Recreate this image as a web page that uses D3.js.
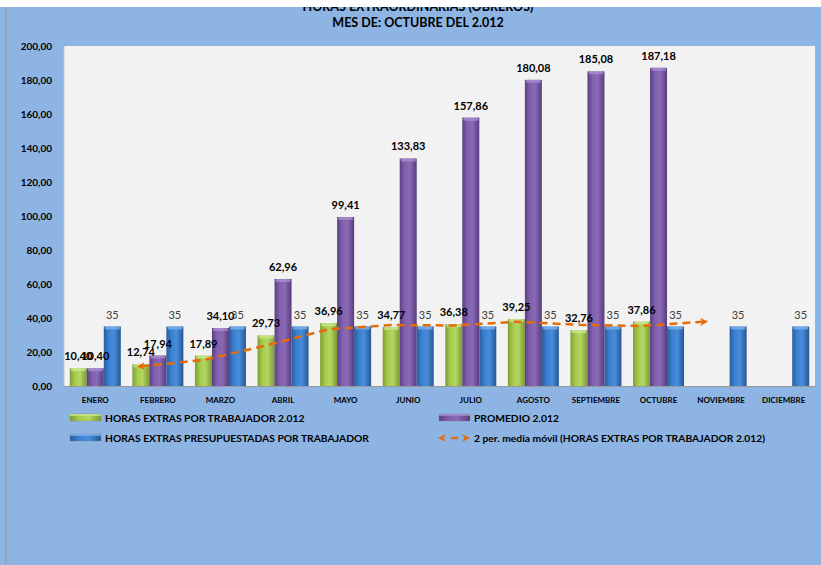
<!DOCTYPE html>
<html><head><meta charset="utf-8">
<script src="https://cdn.jsdelivr.net/npm/d3@7"></script>
<style>body{margin:0;background:#fff}svg{display:block}text{font-family:Lato,"Open Sans",sans-serif}</style>
</head><body><svg id="c" width="821" height="565"></svg>
<script>
const months = ["ENERO","FEBRERO","MARZO","ABRIL","MAYO","JUNIO","JULIO","AGOSTO","SEPTIEMBRE","OCTUBRE","NOVIEMBRE","DICIEMBRE"];
const horasExtras = [10.40,12.74,17.89,29.73,36.96,34.77,36.38,39.25,32.76,37.86,null,null];
const promedio = [10.40,17.94,34.10,62.96,99.41,133.83,157.86,180.08,185.08,187.18,null,null];
const presupuestadas = [35,35,35,35,35,35,35,35,35,35,35,35];
const mediaMovil = [null,11.57,15.32,23.81,33.35,35.87,35.58,37.82,36.01,35.31,37.86,null];
const yTicks = [0,20,40,60,80,100,120,140,160,180,200];
const titles = ["HORAS EXTRAORDINARIAS (OBREROS)","MES DE: OCTUBRE DEL 2.012"];
const legendLabels = ["HORAS EXTRAS POR TRABAJADOR 2.012","PROMEDIO 2.012","HORAS EXTRAS PRESUPUESTADAS POR TRABAJADOR","2 per. media móvil (HORAS EXTRAS POR TRABAJADOR 2.012)"];

const svg = d3.select("#c");
const fmt = v => d3.format(".2f")(v).replace(".", ",");

svg.append("rect").attr("x",0).attr("y",0).attr("width",821).attr("height",565).attr("fill","#8EB4E3");
svg.append("line").attr("x1",6).attr("x2",6).attr("y1",7).attr("y2",565).attr("stroke","#9a9a9a").attr("stroke-width",1);

const defs = svg.append("defs");
function grad(id, stops){
  const g = defs.append("linearGradient").attr("id",id).attr("x1","0").attr("x2","1").attr("y1","0").attr("y2","0");
  stops.forEach(s=>g.append("stop").attr("offset",s[0]).attr("stop-color",s[1]));
}
grad("gG",[[0,"#7C9E33"],[0.3,"#A6CC4C"],[0.6,"#B3D663"],[1,"#7A9A30"]]);
grad("gP",[[0,"#5B3F80"],[0.3,"#8160AF"],[0.6,"#8A69B7"],[1,"#573C7B"]]);
grad("gB",[[0,"#2A5B9D"],[0.3,"#3B81D3"],[0.6,"#478DDB"],[1,"#275693"]]);
const capCol = {gG:"#C8E68A", gP:"#A88ED0", gB:"#7DB2EA"};

const x0 = 64, x1 = 815, yTop = 46, yBot = 386;
svg.append("rect").attr("x",x0).attr("y",yTop).attr("width",x1-x0).attr("height",yBot-yTop).attr("fill","#F2F2F2");

const x = d3.scaleBand().domain(months).range([x0,x1]).paddingInner(0.185).paddingOuter(0.0925);
const sub = d3.scaleBand().domain(["g","p","b"]).range([0,x.bandwidth()]);
const y = d3.scaleLinear().domain([0,200]).range([yBot,yTop]);

// y axis
const ya = svg.append("g").attr("transform","translate(52,0)")
  .call(d3.axisLeft(y).tickValues(yTicks).tickSize(0).tickPadding(0).tickFormat(fmt));
ya.select(".domain").remove();
ya.selectAll("text").attr("font-size",10).attr("font-weight","bold").attr("fill","#000").attr("font-family","Lato");
svg.append("line").attr("x1",x0).attr("x2",x0).attr("y1",yTop).attr("y2",yBot).attr("stroke","#C8C8C8");

// x axis
const xa = svg.append("g").attr("transform",`translate(0,${yBot})`)
  .call(d3.axisBottom(x).tickSize(0).tickPadding(13));
xa.select(".domain").attr("stroke","#9a9a9a");
xa.selectAll("text").attr("font-size",8).attr("font-weight","bold").attr("fill","#000").attr("font-family","Lato").attr("dy","0.5em");

const series = [
  {key:"g", vals:horasExtras, fill:"gG", bold:true},
  {key:"p", vals:promedio, fill:"gP", bold:true},
  {key:"b", vals:presupuestadas, fill:"gB", bold:false}
];
series.forEach(s=>{
  const g = svg.append("g");
  months.forEach((m,i)=>{
    const v = s.vals[i];
    if(v==null) return;
    const bx = x(m)+sub(s.key), bw = sub.bandwidth();
    g.append("rect").attr("x",bx).attr("y",y(v)).attr("width",bw).attr("height",y(0)-y(v)).attr("fill",`url(#${s.fill})`);
    g.append("rect").attr("x",bx+1).attr("y",y(v)).attr("width",bw-2).attr("height",3).attr("rx",1.5).attr("fill",capCol[s.fill]).attr("opacity",0.8);
  });
});
// labels
series.forEach(s=>{
  months.forEach((m,i)=>{
    const v = s.vals[i];
    if(v==null) return;
    svg.append("text").attr("x",x(m)+sub(s.key)+sub.bandwidth()/2).attr("y",y(v)-8)
      .attr("text-anchor","middle").attr("font-size",11)
      .attr("font-weight",s.bold?"bold":"normal").attr("fill",s.bold?"#000":"#404040")
      .text(s.bold?fmt(v):String(v));
  });
});

// moving average line
const pts = months.map((m,i)=>({m,v:mediaMovil[i]})).filter(d=>d.v!=null);
const mk = defs.append("marker").attr("id","arrE").attr("viewBox","0 0 10 10").attr("refX",5).attr("refY",5)
  .attr("markerWidth",3.2).attr("markerHeight",3.2).attr("orient","auto");
mk.append("path").attr("d","M0,0 L10,5 L0,10 L3,5 Z").attr("fill","#E46C0A");
const mk2 = defs.append("marker").attr("id","arrS").attr("viewBox","0 0 10 10").attr("refX",5).attr("refY",5)
  .attr("markerWidth",3.2).attr("markerHeight",3.2).attr("orient","auto-start-reverse");
mk2.append("path").attr("d","M0,0 L10,5 L0,10 L3,5 Z").attr("fill","#E46C0A");
svg.append("path").datum(pts)
  .attr("d",d3.line().x(d=>x(d.m)+sub("g")+sub.bandwidth()/2).y(d=>y(d.v)))
  .attr("fill","none").attr("stroke","#E46C0A").attr("stroke-width",2.5).attr("stroke-dasharray","8,5")
  .attr("marker-end","url(#arrE)").attr("marker-start","url(#arrS)");

// legend
const leg = [
  {lx:70, ly:418, fill:"gG", t:legendLabels[0]},
  {lx:439, ly:418, fill:"gP", t:legendLabels[1]},
  {lx:70, ly:438, fill:"gB", t:legendLabels[2]},
  {lx:439, ly:438, line:true, t:legendLabels[3]}
];
leg.forEach(l=>{
  if(l.line){
    svg.append("line").attr("x1",l.lx+3).attr("x2",l.lx+27).attr("y1",l.ly).attr("y2",l.ly)
      .attr("stroke","#E46C0A").attr("stroke-width",2.5).attr("stroke-dasharray","0,9,7,20")
      .attr("marker-start","url(#arrS)").attr("marker-end","url(#arrE)");
  } else {
    svg.append("rect").attr("x",l.lx).attr("y",l.ly-4).attr("width",31).attr("height",7).attr("fill",`url(#${l.fill})`)
      .attr("stroke","#777").attr("stroke-width",0.3);
    svg.append("rect").attr("x",l.lx).attr("y",l.ly-4).attr("width",31).attr("height",2).attr("fill",capCol[l.fill]).attr("opacity",0.8);
  }
  svg.append("text").attr("x",l.lx+35).attr("y",l.ly+3.5).attr("font-size",10.3).attr("font-weight","bold").attr("fill","#000").text(l.t);
});

// titles
svg.append("text").attr("x",418).attr("y",11).attr("text-anchor","middle").attr("font-size",12.5).attr("font-weight","bold").text(titles[0]);
svg.append("text").attr("x",418).attr("y",27).attr("text-anchor","middle").attr("font-size",12.5).attr("font-weight","bold").text(titles[1]);
svg.append("rect").attr("x",0).attr("y",0).attr("width",821).attr("height",7).attr("fill","#fff");
</script></body></html>
